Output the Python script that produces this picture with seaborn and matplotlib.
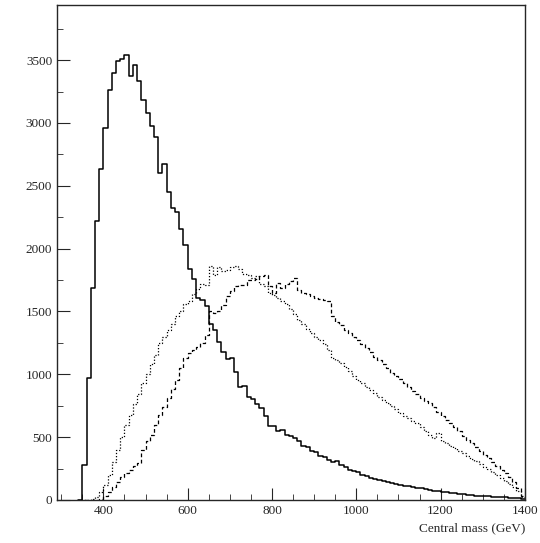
import numpy as np
import pandas as pd
import matplotlib
matplotlib.use('Agg')
import matplotlib.pyplot as plt
import seaborn as sns
from matplotlib.ticker import MultipleLocator

# 10 GeV bins, left edges 340 ... 1390
bin_edges = np.arange(340, 1401, 10)

solid = [0,
         279, 970, 1690, 2223, 2630, 2956, 3262, 3400, 3493, 3510,
         3540, 3375, 3460, 3330, 3180, 3075, 2975, 2885, 2605, 2670,
         2450, 2320, 2295, 2160, 2030, 1840, 1760, 1610, 1595, 1540,
         1400, 1355, 1260, 1180, 1125, 1130, 1020, 900, 910, 820,
         805, 765, 735, 665, 585, 590, 550, 560, 520, 510,
         490, 470, 430, 420, 390, 380, 350, 340, 320, 300,
         310, 280, 260, 240, 230, 220, 200, 190, 175, 170,
         160, 150, 140, 135, 130, 120, 115, 110, 100, 95,
         95, 85, 80, 75, 70, 65, 60, 55, 55, 50,
         45, 40, 40, 35, 30, 30, 28, 25, 25, 22,
         20, 18, 15, 12, 10]

dotted = [0,
          0, 0, 5, 20, 60, 120, 200, 300, 400, 500,
          600, 680, 760, 840, 930, 1000, 1080, 1150, 1250, 1300,
          1350, 1400, 1460, 1500, 1560, 1580, 1640, 1680, 1720, 1713,
          1860, 1790, 1850, 1820, 1830, 1850, 1860, 1840, 1800, 1790,
          1770, 1780, 1720, 1700, 1650, 1630, 1610, 1580, 1560, 1520,
          1480, 1435, 1400, 1360, 1330, 1300, 1270, 1240, 1195, 1130,
          1110, 1090, 1060, 1030, 990, 955, 930, 900, 875, 850,
          820, 795, 770, 745, 720, 690, 670, 650, 630, 610,
          580, 550, 520, 490, 530, 470, 450, 430, 410, 390,
          370, 350, 330, 310, 290, 265, 245, 220, 200, 175,
          150, 125, 100, 70, 25]

dashed = [0,
          0, 0, 0, 0, 10, 30, 60, 100, 140, 180,
          215, 240, 270, 295, 400, 470, 518, 600, 677, 740,
          810, 880, 955, 1050, 1130, 1170, 1190, 1220, 1250, 1315,
          1500, 1490, 1500, 1550, 1620, 1660, 1700, 1710, 1713, 1753,
          1750, 1760, 1780, 1790, 1700, 1650, 1730, 1690, 1720, 1740,
          1770, 1673, 1650, 1640, 1620, 1610, 1600, 1590, 1580, 1460,
          1420, 1390, 1355, 1330, 1300, 1275, 1240, 1210, 1180, 1140,
          1110, 1080, 1050, 1010, 990, 960, 930, 900, 870, 840,
          810, 790, 770, 740, 700, 670, 640, 610, 580, 550,
          510, 480, 450, 420, 390, 360, 335, 300, 270, 240,
          215, 180, 140, 95, 30]

sns.set_style('ticks')
plt.rcParams['font.family'] = ['Liberation Serif', 'DejaVu Serif']

fig = plt.figure(figsize=(5.4, 5.43), dpi=100)
ax = fig.add_axes([0.1056, 0.0792, 0.8664, 0.912])

centers = bin_edges[:-1] + 5
styles = [(solid, '-', 1.1), (dotted, (0, (1, 1.5)), 0.9), (dashed, (0, (3, 2)), 0.9)]
for vals, ls, lw in styles:
    df = pd.DataFrame({'mass': centers, 'n': vals})
    sns.histplot(data=df, x='mass', weights='n', binwidth=10, binrange=(340, 1400),
                 element='step', fill=False, color='black', linestyle=ls,
                 linewidth=lw, ax=ax)

ax.set_xlim(290, 1400)
ax.set_ylim(0, 3940)
ax.xaxis.set_major_locator(MultipleLocator(200))
ax.xaxis.set_minor_locator(MultipleLocator(50))
ax.yaxis.set_major_locator(MultipleLocator(500))
ax.yaxis.set_minor_locator(MultipleLocator(250))
ax.tick_params(which='both', direction='in', top=False, right=False, labelsize=9.5)
ax.tick_params(which='major', length=9)
ax.tick_params(which='minor', length=4.5)
for s in ax.spines.values():
    s.set_linewidth(1.0)
ax.set_ylabel('')
ax.set_xlabel('Central mass (GeV)', fontsize=9.5)
ax.xaxis.set_label_coords(1.0, -0.045)
ax.xaxis.label.set_horizontalalignment('right')

fig.savefig('out.png', dpi=100)
